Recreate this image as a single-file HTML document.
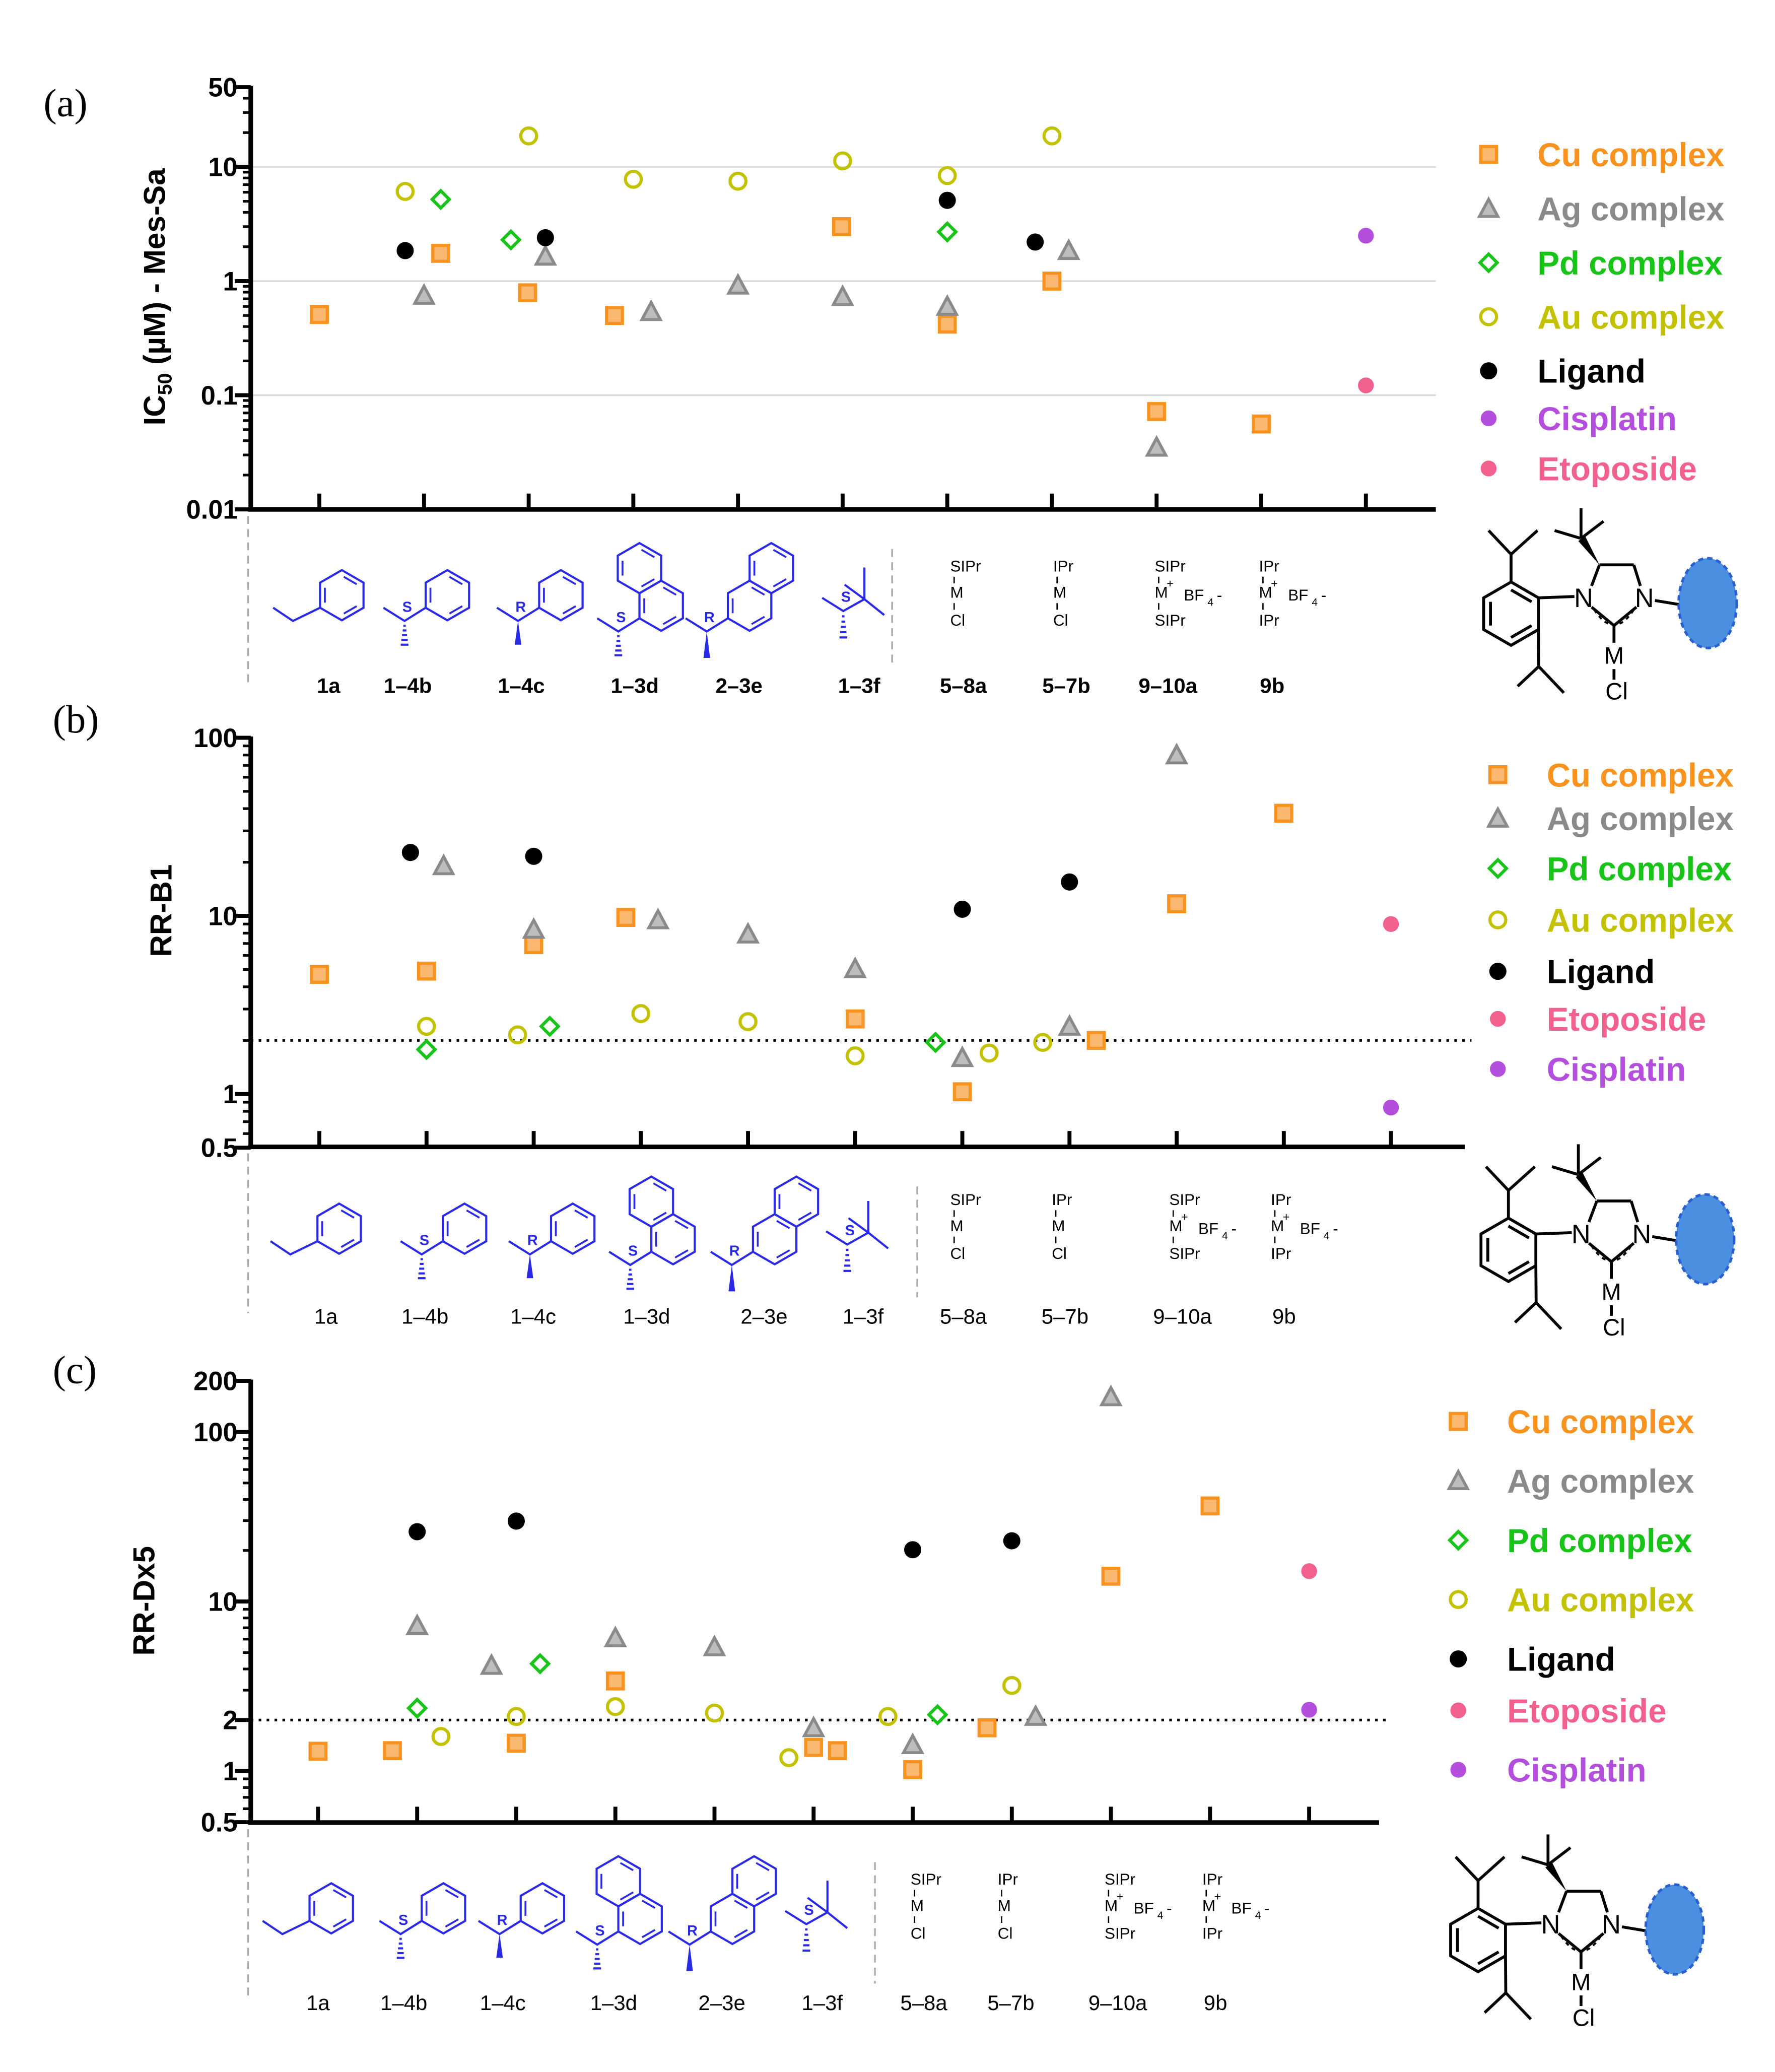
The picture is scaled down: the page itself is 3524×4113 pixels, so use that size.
<!DOCTYPE html>
<html><head><meta charset="utf-8"><style>
html,body{margin:0;padding:0;background:#fff}
svg{display:block}
text{font-family:"Liberation Sans",Arial,sans-serif}
</style></head><body>
<svg id="fig" xmlns="http://www.w3.org/2000/svg" width="3524" height="4113" viewBox="0 0 1345 1570" preserveAspectRatio="none"></svg>
<script>
// ---------- Panel (a) data : IC50 Mes-Sa ----------
const catA = ["1a","1-4b","1-4c","1-3d","2-3e","1-3f","5-8a","5-7b","9-10a","9b"];
const aTicks = [50,10,1,0.1,0.01];
const aCuPos = [0,1.16,1.99,2.82,4.99,6,7,8,9];
const aCuVal = [0.51,1.75,0.79,0.5,3.0,0.42,1.0,0.072,0.056];
const aAgPos = [1,2.16,3.17,4,5,6,7.16,8];
const aAgVal = [0.75,1.65,0.54,0.92,0.73,0.6,1.85,0.035];
const aPdPos = [1.16,1.83,6];
const aPdVal = [5.2,2.3,2.7];
const aAuPos = [0.82,2,3,4,5,6,7];
const aAuVal = [6.1,18.7,7.8,7.5,11.3,8.4,18.7];
const aLigPos = [0.82,2.16,6,6.84];
const aLigVal = [1.85,2.4,5.1,2.2];
const aCisPos = [10]; const aCisVal = [2.5];
const aEtoPos = [10]; const aEtoVal = [0.122];
// ---------- Panel (b) data : RR-B1 ----------
const bTicks = [100,10,1,0.5];
const bRef = 2;
const bCuPos = [0,1,2,2.86,5,6,7.25,8,9];
const bCuVal = [4.7,4.9,6.9,9.8,2.64,1.03,2.0,11.7,37.7];
const bAgPos = [1.16,2,3.16,4,5,6,7,8];
const bAgVal = [19.1,8.4,9.5,7.9,5.05,1.6,2.4,80];
const bPdPos = [1,2.15,5.75];
const bPdVal = [1.78,2.4,1.95];
const bAuPos = [1,1.85,3,4,5,6.25,6.75];
const bAuVal = [2.4,2.15,2.83,2.55,1.64,1.7,1.95];
const bLigPos = [0.85,2,6,7];
const bLigVal = [22.7,21.6,10.9,15.5];
const bEtoPos = [10]; const bEtoVal = [9.0];
const bCisPos = [10]; const bCisVal = [0.84];
// ---------- Panel (c) data : RR-Dx5 ----------
const cTicks = [200,100,10,2,1,0.5];
const cRef = 2;
const cCuPos = [0,0.75,2,3,5,5.24,6,6.75,8,9];
const cCuVal = [1.31,1.32,1.46,3.4,1.38,1.32,1.02,1.8,14.1,36.6];
const cAgPos = [1,1.75,3,4,5,6,7.24,8];
const cAgVal = [7.2,4.2,6.1,5.4,1.8,1.43,2.1,161];
const cPdPos = [1,2.24,6.25];
const cPdVal = [2.35,4.3,2.15];
const cAuPos = [1.24,2,3,4,4.75,5.75,7];
const cAuVal = [1.6,2.1,2.4,2.2,1.2,2.1,3.2];
const cLigPos = [1,2,6,7];
const cLigVal = [25.8,29.8,20.2,22.8];
const cEtoPos = [10]; const cEtoVal = [15.1];
const cCisPos = [10]; const cCisVal = [2.3];

const NS="http://www.w3.org/2000/svg";
const svg=document.getElementById('fig');
function mk(tag,attrs,parent){const e=document.createElementNS(NS,tag);for(const k in attrs)e.setAttribute(k,attrs[k]);(parent||svg).appendChild(e);return e;}
const COL={cu:"#F7931E",ag:"#8a8a8a",pd:"#19c419",au:"#c2c200",lig:"#000",cis:"#b44fdd",eto:"#f2608e"};

function marker(g,type,x,y,s){
  let e;
  if(type==='cu'){e=mk('rect',{x:x-6*s,y:y-6*s,width:12*s,height:12*s,fill:"#fbb871",stroke:COL.cu,'stroke-width':2.4},g);}
  else if(type==='ag'){e=mk('polygon',{points:`${x},${y-7*s} ${x+7*s},${y+6*s} ${x-7*s},${y+6*s}`,fill:"#bdbdbd",stroke:COL.ag,'stroke-width':2.2},g);}
  else if(type==='pd'){e=mk('polygon',{points:`${x},${y-6.5*s} ${x+6.5*s},${y} ${x},${y+6.5*s} ${x-6.5*s},${y}`,fill:"none",stroke:COL.pd,'stroke-width':2.4},g);}
  else if(type==='au'){e=mk('circle',{cx:x,cy:y,r:6*s,fill:"none",stroke:COL.au,'stroke-width':2.4},g);}
  else if(type==='lig'){e=mk('circle',{cx:x,cy:y,r:6.5*s,fill:"#000"},g);}
  else {e=mk('circle',{cx:x,cy:y,r:6*s,fill:COL[type]},g);}
  return e;
}

function txt(g,x,y,s,attrs){const t=mk('text',Object.assign({x:x,y:y},attrs),g);t.textContent=s;return t;}

const BL="#2a2ae6";
function hexPts(cx,cy,r){const p=[];for(let k=0;k<6;k++){const a=(-90+60*k)*Math.PI/180;p.push([cx+r*Math.cos(a),cy+r*Math.sin(a)]);}return p;}
function benz(g,cx,cy,r){
  const p=hexPts(cx,cy,r);
  mk('polygon',{points:p.map(q=>q.join(',')).join(' '),fill:'none',stroke:BL,'stroke-width':1.6},g);
  [[0,1],[2,3],[4,5]].forEach(([i,j])=>{const a=p[i],b=p[j];const f=0.78;
    const ax=cx+(a[0]-cx)*f,ay=cy+(a[1]-cy)*f,bx=cx+(b[0]-cx)*f,by=cy+(b[1]-cy)*f;
    mk('line',{x1:ax+(bx-ax)*0.12,y1:ay+(by-ay)*0.12,x2:bx-(bx-ax)*0.12,y2:by-(by-ay)*0.12,stroke:BL,'stroke-width':1.4},g);});
  return p;
}
function pl(g,pts,extra){return mk('polyline',Object.assign({points:pts.map(q=>q.join(',')).join(' '),fill:'none',stroke:BL,'stroke-width':1.6},extra||{}),g);}
function stereo(g,x,y,len,kind,lab){
  if(kind==='dash'){for(let i=1;i<=5;i++){const yy=y+i*len/5;mk('line',{x1:x-0.4-i*0.5,y1:yy,x2:x+0.4+i*0.5,y2:yy,stroke:BL,'stroke-width':1.6},g);}}
  else mk('polygon',{points:`${x},${y} ${x+2.5},${y+len} ${x-2.5},${y+len}`,fill:BL},g);
  txt(g,x+2,y-7,lab,{'font-size':11,fill:BL,'text-anchor':'middle','font-weight':'bold'});
}
function structure(g,type,x,y){
  const r=19;
  if(type==='1a'){const c=[x+10,y-4];const p=benz(g,c[0],c[1],r);pl(g,[[x-42,p[4][1]],[x-27,p[4][1]+10],p[4]]);}
  else if(type==='1-4b'||type==='1-4c'){const c=[x+30,y-4];const p=benz(g,c[0],c[1],r);const m=[p[4][0]-16,p[4][1]+10];
    pl(g,[[m[0]-16,p[4][1]],m,p[4]]);stereo(g,m[0],m[1],18,type==='1-4b'?'dash':'wedge',type==='1-4b'?'S':'R');}
  else if(type==='1-3d'){const c=[x+20,y+4];const p=benz(g,c[0],c[1],r);benz(g,c[0]-r*0.866,c[1]-1.5*r,r);
    const m=[p[4][0]-16,p[4][1]+10];pl(g,[[m[0]-16,p[4][1]],m,p[4]]);stereo(g,m[0],m[1],18,'dash','S');}
  else if(type==='2-3e'){const c=[x+8,y+4];const p=benz(g,c[0],c[1],r);benz(g,c[0]+r*0.866,c[1]-1.5*r,r);
    const m=[p[4][0]-16,p[4][1]+10];pl(g,[[m[0]-16,p[4][1]],m,p[4]]);stereo(g,m[0],m[1],20,'wedge','R');}
  else if(type==='1-3f'){const m=[x-12,y+8];const q=[x+4,y-1];pl(g,[[m[0]-16,m[1]-10],m,q]);pl(g,[[q[0],q[1]-24],q,[q[0]+15,q[1]+12]]);pl(g,[[q[0]-15,q[1]-11],q]);stereo(g,m[0],m[1],20,'dash','S');}
  else {
    const top={"5-8a":"SIPr","5-7b":"IPr","9-10a":"SIPr","9b":"IPr"}[type];
    const fs=12;const xx=x-10;
    txt(g,xx,y-22,top,{'font-size':fs});
    mk('line',{x1:xx+3,y1:y-18,x2:xx+3,y2:y-13,stroke:'#000','stroke-width':1},g);
    txt(g,xx,y-2,'M',{'font-size':fs});
    if(type==='9-10a'||type==='9b'){txt(g,xx+9,y-10,'+',{'font-size':9});txt(g,xx+22,y,'BF',{'font-size':12});txt(g,xx+40,y+4,'4',{'font-size':8});txt(g,xx+47,y,'-',{'font-size':12});}
    mk('line',{x1:xx+3,y1:y+2,x2:xx+3,y2:y+7,stroke:'#000','stroke-width':1},g);
    txt(g,xx,y+19,(type==='9-10a'||type==='9b')?top:'Cl',{'font-size':fs});
  }
}
function nhc(g,ox,oy){
  const T=(x,y)=>[x+ox,y+oy];
  const k={stroke:'#000','stroke-width':2.2,fill:'none'};
  const c=T(1145,465);const p=hexPts(c[0],c[1],24);
  mk('polygon',Object.assign({points:p.map(q=>q.join(',')).join(' ')},k),g);
  [[0,1],[2,3],[4,5]].forEach(([i,j])=>{const f=0.75;mk('line',Object.assign({x1:c[0]+(p[i][0]-c[0])*f,y1:c[1]+(p[i][1]-c[1])*f,x2:c[0]+(p[j][0]-c[0])*f,y2:c[1]+(p[j][1]-c[1])*f},k),g);});
  const ln=(a,b)=>mk('line',Object.assign({x1:a[0],y1:a[1],x2:b[0],y2:b[1]},k),g);
  ln(p[0],T(1145,420));ln(T(1145,420),T(1128,402));ln(T(1145,420),T(1165,402));
  ln(p[2],T(1166,505));ln(T(1166,505),T(1150,520));ln(T(1166,505),T(1185,525));
  ln(p[1],T(1193,452));
  const N1=T(1200,452),N3=T(1246,452);
  txt(g,N1[0],N1[1]+8,'N',{'font-size':20,'text-anchor':'middle'});
  txt(g,N3[0],N3[1]+8,'N',{'font-size':20,'text-anchor':'middle'});
  ln(T(1206,444),T(1212,428));ln(T(1212,428),T(1238,428));ln(T(1238,428),T(1243,444));
  ln(T(1206,460),T(1223,474));ln(T(1223,474),T(1240,460));
  mk('path',{d:`M${T(1208,462)} Q${T(1223,485)} ${T(1238,462)}`,stroke:'#000','stroke-width':1.5,fill:'none','stroke-dasharray':'3,3'},g);
  mk('polygon',{points:[T(1212,428),T(1196,410),T(1201,406)].map(q=>q.join(',')).join(' '),fill:'#000'},g);
  ln(T(1198,408),T(1198,385));ln(T(1198,408),T(1178,402));ln(T(1198,408),T(1215,395));
  ln(T(1223,474),T(1223,487));
  txt(g,T(1223,0)[0],T(0,503)[1],'M',{'font-size':18,'text-anchor':'middle'});
  ln(T(1223,507),T(1223,515));
  txt(g,T(1225,0)[0],T(0,530)[1],'Cl',{'font-size':18,'text-anchor':'middle'});
  ln(T(1254,455),T(1272,458));
  mk('ellipse',{cx:T(1294,0)[0],cy:T(0,457)[1],rx:22,ry:34,fill:'#4a8fe0',stroke:'#2a5fd0','stroke-width':2,'stroke-dasharray':'4,3'},g);
}

function panel(cfg){
  const g=mk('g',{});
  
  
  const {x0,x1,yAx,step,cx0,lv0,y0,dec}=cfg;
  const X=p=>cx0+p*step;
  const Y=v=>y0-(Math.log10(v)-lv0)*dec;
  (cfg.grid||[]).forEach(v=>{const l=mk('line',{x1:x0,x2:x1,y1:Y(v),y2:Y(v),stroke:'#d8d8d8','stroke-width':1.2},g);});
  if(cfg.ref){const l=mk('line',{x1:x0,x2:x1+5,y1:Y(cfg.ref),y2:Y(cfg.ref),stroke:'#000','stroke-width':2,'stroke-dasharray':'2,4'},g);}
  const ya=mk('g',{},g);
  const vmin=cfg.ticks[cfg.ticks.length-1],vmax=cfg.ticks[0];
  mk('line',{x1:x0,x2:x0,y1:Y(vmax)-1,y2:yAx,stroke:'#000','stroke-width':3.5},ya);
  for(let d=Math.floor(Math.log10(vmin));d<=Math.ceil(Math.log10(vmax));d++){for(let m=1;m<10;m++){const v=m*Math.pow(10,d);if(v<vmin-1e-9||v>vmax+1e-9)continue;
    mk('line',{x1:x0-(m===1?12:6),x2:x0,y1:Y(v),y2:Y(v),stroke:'#000','stroke-width':m===1?3:2},ya);}}
  cfg.ticks.forEach(v=>{mk('line',{x1:x0-12,x2:x0,y1:Y(v),y2:Y(v),stroke:'#000','stroke-width':3},ya);
    const t=txt(ya,x0-10,Y(v)+7,String(v),{'font-size':20,'font-weight':'bold','text-anchor':'end'});});
  const xa=mk('g',{},g);
  mk('line',{x1:x0-2,x2:x1,y1:yAx,y2:yAx,stroke:'#000','stroke-width':3.5},xa);
  for(let i=0;i<=10;i++)mk('line',{x1:X(i),x2:X(i),y1:yAx-12,y2:yAx,stroke:'#000','stroke-width':3},xa);
  const yt=mk('text',{x:0,y:0,transform:`translate(${cfg.ytx},${cfg.yty}) rotate(-90)`,'font-size':23,'font-weight':'bold','text-anchor':'middle'},g);
  
  if(cfg.ic50){yt.innerHTML='IC<tspan font-size="15" dy="5">50</tspan><tspan dy="-5"> (µM) - Mes-Sa</tspan>';}else yt.textContent=cfg.ytitle;
  const pl_=txt(g,cfg.lx,cfg.ly,cfg.letter,{'font-size':30,style:'font-family:"Liberation Serif",serif'});
  cfg.series.forEach(([type,pos,val,nm])=>{const sg=mk('g',{},g);
    pos.forEach((p,i)=>{const m=marker(sg,type,X(p),Y(val[i]),1);});});
  const sr=mk('g',{},g);
  mk('line',{x1:x0-2,x2:x0-2,y1:yAx+5,y2:cfg.labY-8,stroke:'#aaa','stroke-width':1.3,'stroke-dasharray':'6,4'},sr);
  mk('line',{x1:cfg.sepX,x2:cfg.sepX,y1:yAx+30,y2:cfg.labY-20,stroke:'#aaa','stroke-width':1.3,'stroke-dasharray':'6,4'},sr);
  catA.forEach((c,i)=>{structure(sr,c,cfg.labX[i],cfg.sy);
    const t=txt(sr,cfg.labX[i],cfg.labY,c.replace('-','–'),{'font-size':16,'font-weight':cfg.boldLab?'bold':'normal','text-anchor':'middle'});});
  const ng=mk('g',{},g);
  nhc(ng,cfg.nhcx,cfg.nhcy);
  const lg=mk('g',{},g);
  cfg.legend.forEach(([type,label],i)=>{const y=cfg.legY[i];const eg=mk('g',{},lg);
    marker(eg,type,cfg.legMX,y,1);txt(eg,cfg.legTX,y+9,label,{'font-size':25,'font-weight':'bold',fill:COL[type]});});
}

panel({name:'panel-a',letter:'(a)',lx:33,ly:88,x0:190,x1:1088,yAx:386,cx0:242,step:79.3,lv0:0,y0:213,dec:86.5,
  ticks:aTicks,grid:[10,1,0.1],ic50:true,ytx:125,yty:225,
  series:[['cu',aCuPos,aCuVal,'cu-complex'],['ag',aAgPos,aAgVal,'ag-complex'],['pd',aPdPos,aPdVal,'pd-complex'],['au',aAuPos,aAuVal,'au-complex'],['lig',aLigPos,aLigVal,'ligand'],['cis',aCisPos,aCisVal,'cisplatin'],['eto',aEtoPos,aEtoVal,'etoposide']],
  labX:[249,309,395,481,560,651,730,808,885,964],labY:525,sy:455,sepX:676,boldLab:true,nhcx:0,nhcy:0,
  legend:[['cu','Cu complex'],['ag','Ag complex'],['pd','Pd complex'],['au','Au complex'],['lig','Ligand'],['cis','Cisplatin'],['eto','Etoposide']],
  legY:[117,158,199,240,281,317,355],legMX:1128,legTX:1165});
panel({name:'panel-b',letter:'(b)',lx:40,ly:555,x0:190,x1:1110,yAx:869,cx0:242,step:81.2,lv0:0,y0:829,dec:135,
  ticks:bTicks,ref:bRef,ytitle:'RR-B1',ytx:130,yty:690,
  series:[['cu',bCuPos,bCuVal,'cu-complex'],['ag',bAgPos,bAgVal,'ag-complex'],['pd',bPdPos,bPdVal,'pd-complex'],['au',bAuPos,bAuVal,'au-complex'],['lig',bLigPos,bLigVal,'ligand'],['eto',bEtoPos,bEtoVal,'etoposide'],['cis',bCisPos,bCisVal,'cisplatin']],
  labX:[247,322,404,490,579,654,730,807,896,973],labY:1003,sy:935,sepX:695,boldLab:false,nhcx:-2,nhcy:482,
  legend:[['cu','Cu complex'],['ag','Ag complex'],['pd','Pd complex'],['au','Au complex'],['lig','Ligand'],['eto','Etoposide'],['cis','Cisplatin']],
  legY:[587,620,658,697,736,772,810],legMX:1135,legTX:1172});
panel({name:'panel-c',letter:'(c)',lx:40,ly:1048,x0:190,x1:1045,yAx:1381,cx0:241,step:75.1,lv0:0,y0:1342,dec:128.5,
  ticks:cTicks,ref:cRef,ytitle:'RR-Dx5',ytx:117,yty:1213,
  series:[['cu',cCuPos,cCuVal,'cu-complex'],['ag',cAgPos,cAgVal,'ag-complex'],['pd',cPdPos,cPdVal,'pd-complex'],['au',cAuPos,cAuVal,'au-complex'],['lig',cLigPos,cLigVal,'ligand'],['eto',cEtoPos,cEtoVal,'etoposide'],['cis',cCisPos,cCisVal,'cisplatin']],
  labX:[241,306,381,465,547,623,700,766,847,921],labY:1523,sy:1450,sepX:663,boldLab:false,nhcx:-25,nhcy:1005,
  legend:[['cu','Cu complex'],['ag','Ag complex'],['pd','Pd complex'],['au','Au complex'],['lig','Ligand'],['eto','Etoposide'],['cis','Cisplatin']],
  legY:[1077,1122,1167,1212,1257,1296,1341],legMX:1105,legTX:1142});
</script>
</body></html>
